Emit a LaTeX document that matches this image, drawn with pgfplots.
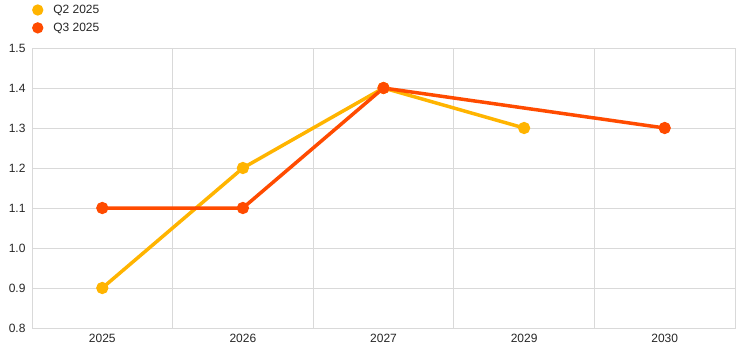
\documentclass[border=0pt]{standalone}
\usepackage{pgfplots}
\pgfplotsset{compat=1.18}
\usepackage{fontspec}
\setmainfont{Liberation Sans}
\definecolor{qtwo}{HTML}{FFB400}
\definecolor{qthree}{HTML}{FF4B00}
\definecolor{gridc}{HTML}{D9D9D9}
\begin{document}
\begin{tikzpicture}
\begin{axis}[
  name=ax,
  scale only axis,
  width=703bp, height=280bp,
  xmin=-0.5, xmax=4.5,
  ymin=0.8, ymax=1.5,
  xtick={0,1,2,3,4},
  xticklabels={2025,2026,2027,2029,2030},
  minor xtick={0.5,1.5,2.5,3.5},
  ytick={0.8,0.9,1.0,1.1,1.2,1.3,1.4,1.5},
  yticklabel style={/pgf/number format/fixed, /pgf/number format/fixed zerofill, /pgf/number format/precision=1, xshift=-3bp},
  /pgf/number format/assume math mode=true,
  ymajorgrids, xminorgrids,
  grid style={draw=gridc, line width=0.8bp},
  minor grid style={draw=gridc, line width=0.8bp},
  axis line style={draw=gridc, line width=0.8bp},
  major tick length=0pt, minor tick length=0pt,
  tick label style={font=\fontsize{12bp}{14bp}\selectfont, text=black!85},
  xticklabel style={yshift=-3bp},
  legend style={at={(rel axis cs:0,1)}, anchor=south west, xshift=0bp, yshift=14bp,
    draw=none, fill=none, font=\fontsize{12bp}{14bp}\selectfont,
    inner sep=0pt, row sep=6bp, nodes={inner sep=1bp, text=black!85},
    /tikz/every odd column/.append style={column sep=9bp}},
  legend cell align=left,
  legend image code/.code={\fill[#1] (0.3em,0bp) circle (3.8bp);},
  clip=false,
]
\addplot[qtwo, line width=3.5bp, mark=*, mark size=4.3bp, mark options={fill=qtwo, draw=none}]
  coordinates {(0,0.9) (1,1.2) (2,1.4) (3,1.3)};
\addlegendentry{Q2 2025}
\addplot[qthree, line width=3.5bp, mark=*, mark size=4.3bp, mark options={fill=qthree, draw=none}]
  coordinates {(0,1.1) (1,1.1) (2,1.4) (4,1.3)};
\addlegendentry{Q3 2025}
\end{axis}
\path[use as bounding box] ([shift={(-32bp,-27bp)}]ax.south west) rectangle ++(745bp,355bp);
\end{tikzpicture}
\end{document}
